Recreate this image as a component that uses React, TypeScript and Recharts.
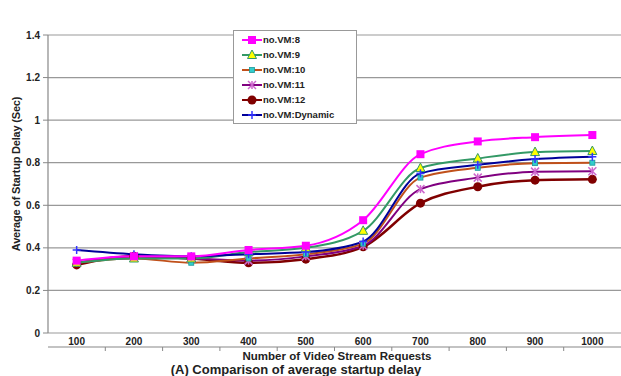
import React from 'react';
import { LineChart, Line, XAxis, YAxis, CartesianGrid, Legend } from 'recharts';

const requests = [100, 200, 300, 400, 500, 600, 700, 800, 900, 1000];
const between = [150, 250, 350, 450, 550, 650, 750, 850, 950];
const yTicks = [0, 0.2, 0.4, 0.6, 0.8, 1, 1.2, 1.4];

const vm8 = [0.34, 0.36, 0.36, 0.39, 0.41, 0.53, 0.84, 0.9, 0.92, 0.93];
const vm9 = [0.33, 0.35, 0.35, 0.38, 0.4, 0.48, 0.775, 0.82, 0.85, 0.855];
const vm10 = [0.33, 0.35, 0.33, 0.35, 0.37, 0.42, 0.73, 0.776, 0.798, 0.8];
const vm11 = [0.33, 0.36, 0.35, 0.34, 0.36, 0.41, 0.676, 0.73, 0.758, 0.76];
const vm12 = [0.32, 0.36, 0.35, 0.33, 0.347, 0.405, 0.61, 0.687, 0.718, 0.722];
const vmDyn = [0.39, 0.37, 0.36, 0.37, 0.38, 0.43, 0.75, 0.79, 0.817, 0.828];

const data = requests.map((x, i) => ({
  x,
  vm8: vm8[i],
  vm9: vm9[i],
  vm10: vm10[i],
  vm11: vm11[i],
  vm12: vm12[i],
  vmDyn: vmDyn[i],
}));

type Marker = 'square' | 'triangle' | 'small' | 'star' | 'circle' | 'plus';

const series: { key: string; name: string; color: string; mark: string; marker: Marker; width: number }[] = [
  { key: 'vm8', name: 'no.VM:8', color: '#ff00ff', mark: '#ff00ff', marker: 'square', width: 2 },
  { key: 'vm9', name: 'no.VM:9', color: '#339966', mark: '#ffff00', marker: 'triangle', width: 2 },
  { key: 'vm10', name: 'no.VM:10', color: '#c0501a', mark: '#33cccc', marker: 'small', width: 2 },
  { key: 'vm11', name: 'no.VM:11', color: '#800080', mark: '#cc66cc', marker: 'star', width: 2 },
  { key: 'vm12', name: 'no.VM:12', color: '#800000', mark: '#800000', marker: 'circle', width: 2.5 },
  { key: 'vmDyn', name: 'no.VM:Dynamic', color: '#000099', mark: '#3333ff', marker: 'plus', width: 2 },
];

// draw order: bottom first
const drawOrder = ['vm12', 'vm11', 'vm10', 'vm9', 'vmDyn', 'vm8'];

function markerShape(m: Marker, cx: number, cy: number, line: string, fill: string) {
  switch (m) {
    case 'square':
      return <rect x={cx - 4} y={cy - 4} width={8} height={8} fill={fill} />;
    case 'triangle':
      return <polygon points={`${cx},${cy - 5} ${cx + 4.5},${cy + 3.5} ${cx - 4.5},${cy + 3.5}`} fill={fill} stroke={line} strokeWidth={1} />;
    case 'small':
      return <rect x={cx - 2.5} y={cy - 2.5} width={5} height={5} fill={fill} stroke="#1a9999" strokeWidth={0.8} />;
    case 'star':
      return (
        <g stroke={fill} strokeWidth={1.5}>
          <line x1={cx - 4} y1={cy - 4} x2={cx + 4} y2={cy + 4} />
          <line x1={cx - 4} y1={cy + 4} x2={cx + 4} y2={cy - 4} />
          <line x1={cx} y1={cy - 4} x2={cx} y2={cy + 4} />
        </g>
      );
    case 'circle':
      return <circle cx={cx} cy={cy} r={4.5} fill={fill} />;
    case 'plus':
      return (
        <g stroke={fill} strokeWidth={1.5}>
          <line x1={cx - 4} y1={cy} x2={cx + 4} y2={cy} />
          <line x1={cx} y1={cy - 4} x2={cx} y2={cy + 4} />
        </g>
      );
  }
}

function LegendBox() {
  return (
    <div
      style={{
        background: '#fff',
        border: '1px solid #999',
        padding: '1px 8px 1px 8px',
        width: 106,
        fontFamily: 'Liberation Sans, Arial, sans-serif',
        fontWeight: 'bold',
        fontSize: 9.5,
        color: '#222',
      }}
    >
      {series.map((s) => (
        <div key={s.key} style={{ display: 'flex', alignItems: 'center', height: 15 }}>
          <svg width={20} height={10} style={{ marginRight: 1 }}>
            <line x1={0} y1={5} x2={20} y2={5} stroke={s.color} strokeWidth={2} />
            {markerShape(s.marker, 10, 5, s.color, s.mark)}
          </svg>
          <span>{s.name}</span>
        </div>
      ))}
    </div>
  );
}

const boldText = { fontFamily: 'Liberation Sans, Arial, sans-serif', fontWeight: 'bold' as const, fill: '#222' };

export default function App() {
  return (
    <div style={{ position: 'absolute', left: 0, top: 0, width: 621, height: 376, background: '#fff' }}>
      <LineChart width={621} height={376} data={data} margin={{ top: 35, right: 0, bottom: 28, left: 0 }}>
        <CartesianGrid vertical={false} stroke="#999" strokeWidth={1.2} />
        <XAxis
          xAxisId="b"
          dataKey="x"
          type="number"
          domain={[50, 1050]}
          ticks={between}
          height={1}
          axisLine={{ stroke: '#888', strokeWidth: 1.2 }}
          tickSize={4}
          tickLine={{ stroke: '#888' }}
          tickFormatter={() => ''}
          interval={0}
        />
        <XAxis
          xAxisId="a"
          dataKey="x"
          type="number"
          domain={[50, 1050]}
          ticks={requests}
          height={14}
          tickLine={false}
          tickSize={0}
          tickMargin={5}
          axisLine={false}
          tick={{ ...boldText, fontSize: 10 }}
          interval={0}
        />
        <YAxis
          width={48}
          domain={[0, 1.4]}
          ticks={yTicks}
          interval={0}
          tickSize={5}
          tickMargin={3}
          axisLine={{ stroke: '#888', strokeWidth: 1.2 }}
          tickLine={{ stroke: '#888' }}
          tick={{ ...boldText, fontSize: 10 }}
        />
        <Legend
          layout="vertical"
          align="center"
          verticalAlign="middle"
          wrapperStyle={{ position: 'absolute', left: 233, top: 30, width: 'auto' }}
          content={() => <LegendBox />}
        />
        {drawOrder.map((k) => {
          const s = series.find((q) => q.key === k)!;
          return (
            <Line
              key={s.key}
              xAxisId="a"
              type="monotone"
              dataKey={s.key}
              name={s.name}
              stroke={s.color}
              strokeWidth={s.width}
              isAnimationActive={false}
              dot={(p: any) => <g key={`${s.key}-${p.index}`}>{markerShape(s.marker, p.cx, p.cy, s.color, s.mark)}</g>}
              activeDot={false}
            />
          );
        })}
      </LineChart>
      <div
        style={{
          position: 'absolute',
          left: 16,
          top: 174,
          transform: 'translate(-50%, -50%) rotate(-90deg)',
          whiteSpace: 'nowrap',
          fontFamily: 'Liberation Sans, Arial, sans-serif',
          fontWeight: 'bold',
          fontSize: 11,
          letterSpacing: -0.2,
          lineHeight: '12px',
          color: '#222',
        }}
      >
        Average of Startup Delay (Sec)
      </div>
      <div
        style={{
          position: 'absolute',
          left: 337,
          top: 350,
          transform: 'translateX(-50%)',
          whiteSpace: 'nowrap',
          fontFamily: 'Liberation Sans, Arial, sans-serif',
          fontWeight: 'bold',
          fontSize: 11.5,
          lineHeight: '12px',
          color: '#222',
        }}
      >
        Number of Video Stream Requests
      </div>
      <div
        style={{
          position: 'absolute',
          left: 296,
          top: 363,
          transform: 'translateX(-50%)',
          whiteSpace: 'nowrap',
          fontFamily: 'Liberation Sans, Arial, sans-serif',
          fontWeight: 'bold',
          fontSize: 13,
          lineHeight: '13px',
          color: '#222',
        }}
      >
        (A) Comparison of average startup delay
      </div>
    </div>
  );
}
